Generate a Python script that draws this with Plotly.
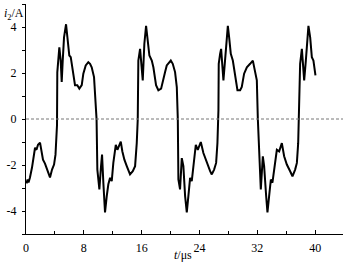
import plotly.graph_objects as go

# time in microseconds, current in amperes
t_us = [0.07, 0.21, 0.35, 0.55, 0.83, 1.11, 1.25, 1.45, 1.66, 1.94, 2.08, 2.35, 2.63, 2.91, 3.18, 3.32,
        3.60, 3.88, 4.08, 4.29, 4.33, 4.47, 4.61, 4.80, 4.94, 5.08, 5.26, 5.54, 5.72, 5.99, 6.19, 6.33,
        6.55, 6.78, 7.10, 7.38, 7.71, 7.93, 8.26, 8.62, 8.86, 9.09, 9.41, 9.55, 9.76, 9.87, 10.01, 10.15,
        10.38, 10.52, 10.70, 10.93, 11.17, 11.39, 11.63, 11.86, 12.08, 12.42, 12.64, 13.11, 13.33, 13.61,
        13.94, 14.39, 14.77, 15.09, 15.32, 15.46, 15.54, 15.78, 16.15, 16.37, 16.61, 16.84, 17.07, 17.40,
        17.62, 17.99, 18.31, 18.69, 19.00, 19.24, 19.47, 19.70, 20.03, 20.30, 20.62, 20.86, 21.00, 21.08,
        21.31, 21.55, 21.77, 22.01, 22.24, 22.46, 22.70, 22.93, 23.16, 23.49, 23.76, 24.18, 24.54, 25.01,
        25.47, 25.70, 26.02, 26.30, 26.48, 26.62, 26.66, 26.85, 26.99, 27.31, 27.54, 27.78, 27.92, 28.10,
        28.33, 28.61, 28.93, 29.25, 29.62, 29.85, 30.17, 30.55, 31.00, 31.38, 31.70, 31.93, 32.07, 32.29,
        32.48, 32.76, 32.94, 33.22, 33.40, 33.63, 33.87, 34.09, 34.37, 34.70, 35.02, 35.39, 35.71, 36.08,
        36.54, 36.86, 37.23, 37.47, 37.65, 37.74, 37.83, 37.92, 38.16, 38.48, 38.71, 38.93, 39.07, 39.31,
        39.54, 39.76, 40.04]
i2_A = [-2.80, -2.63, -2.76, -2.54, -2.11, -1.55, -1.25, -1.34, -1.12, -1.03, -1.34, -1.77, -1.94, -2.20, -2.37, -2.54,
        -2.20, -1.98, -1.55, -0.26, 2.03, 2.54, 3.12, 2.54, 1.61, 2.54, 3.55, 4.12, 3.55, 2.76, 2.69, 2.40,
        1.82, 1.47, 1.47, 1.32, 1.47, 1.97, 2.33, 2.47, 2.40, 2.25, 1.82, 1.25, 0.00, -2.20, -2.63, -3.06,
        -2.05, -1.55, -2.77, -4.06, -3.35, -2.84, -2.56, -2.70, -1.91, -1.12, -1.34, -0.98, -1.41, -1.77,
        -2.05, -2.41, -2.27, -2.05, -1.05, 0.00, 2.54, 3.05, 1.68, 3.26, 4.05, 3.40, 2.76, 2.54,
        2.25, 1.47, 1.25, 1.32, 1.82, 2.04, 2.33, 2.40, 2.54, 2.40, 2.04, 1.39, 0.00, -2.63,
        -3.06, -1.70, -2.05, -3.35, -4.06, -3.35, -2.56, -2.70, -1.91, -1.12, -1.34, -1.00, -1.48, -1.91,
        -2.27, -2.41, -2.20, -1.91, -1.05, 0.39, 2.40, 2.83, 3.05, 1.68, 2.54, 3.69, 4.05, 3.55,
        2.83, 2.54, 1.82, 1.25, 1.25, 1.39, 1.97, 2.25, 2.40, 2.54, 2.04, 1.68, 0.00, -1.77,
        -3.06, -1.62, -2.05, -3.35, -4.06, -3.35, -2.63, -2.77, -2.05, -1.34, -1.41, -1.05, -1.62, -1.98,
        -2.27, -2.49, -2.20, -1.91, -1.05, 0.00, 1.11, 2.40, 3.05, 1.68, 2.54, 3.69, 4.05, 3.55,
        2.69, 2.54, 1.90]

x_ticks = [0, 8, 16, 24, 32, 40]
x_ticktext = ["0", "8", "16", "24", "32", "40"]
y_ticks = [-4, -2, 0, 2, 4]
y_ticktext = ["-4", "-2", "0", "2", "4"]

X_MAX = 43.85
font = dict(family="Liberation Serif, Times New Roman, serif", size=12, color="black")

fig = go.Figure()
fig.add_trace(go.Scatter(x=t_us, y=i2_A, mode="lines",
                         line=dict(color="black", width=2), hoverinfo="skip"))

fig.add_shape(type="line", xref="x", yref="y", x0=0, x1=X_MAX, y0=0, y1=0,
              line=dict(color="#777777", width=1, dash="3px,2px"))

fig.update_layout(
    width=343, height=264,
    margin=dict(l=26, r=0, t=4, b=30),
    paper_bgcolor="white", plot_bgcolor="white",
    showlegend=False, font=font,
    xaxis=dict(range=[0, X_MAX], tickvals=x_ticks, ticktext=x_ticktext,
               ticks="inside", ticklen=4, tickcolor="black", tickwidth=1,
               minor=dict(dtick=4, tick0=0, ticks="inside", ticklen=3, tickcolor="black"),
               showline=True, linecolor="black", linewidth=1, showgrid=False,
               zeroline=False, tickfont=font, ticklabelstandoff=3),
    yaxis=dict(range=[-5, 5], tickvals=y_ticks, ticktext=y_ticktext,
               ticks="outside", ticklen=3, tickcolor="black", tickwidth=1,
               minor=dict(dtick=1, tick0=0, ticks="outside", ticklen=3, tickcolor="black"),
               showline=True, linecolor="black", linewidth=1, showgrid=False,
               zeroline=False, tickfont=font, ticklabelstandoff=3),
)

fig.add_annotation(xref="paper", yref="paper", x=-0.076, y=1.0, xanchor="left", yanchor="top",
                   text="<i>i</i><sub>2</sub>/A", showarrow=False, font=font)
fig.add_annotation(xref="paper", yref="paper", x=0.46, y=-0.09, xanchor="left", yanchor="middle",
                   text="<i>t</i>/μs", showarrow=False, font=font)

fig.write_html("out.html")
